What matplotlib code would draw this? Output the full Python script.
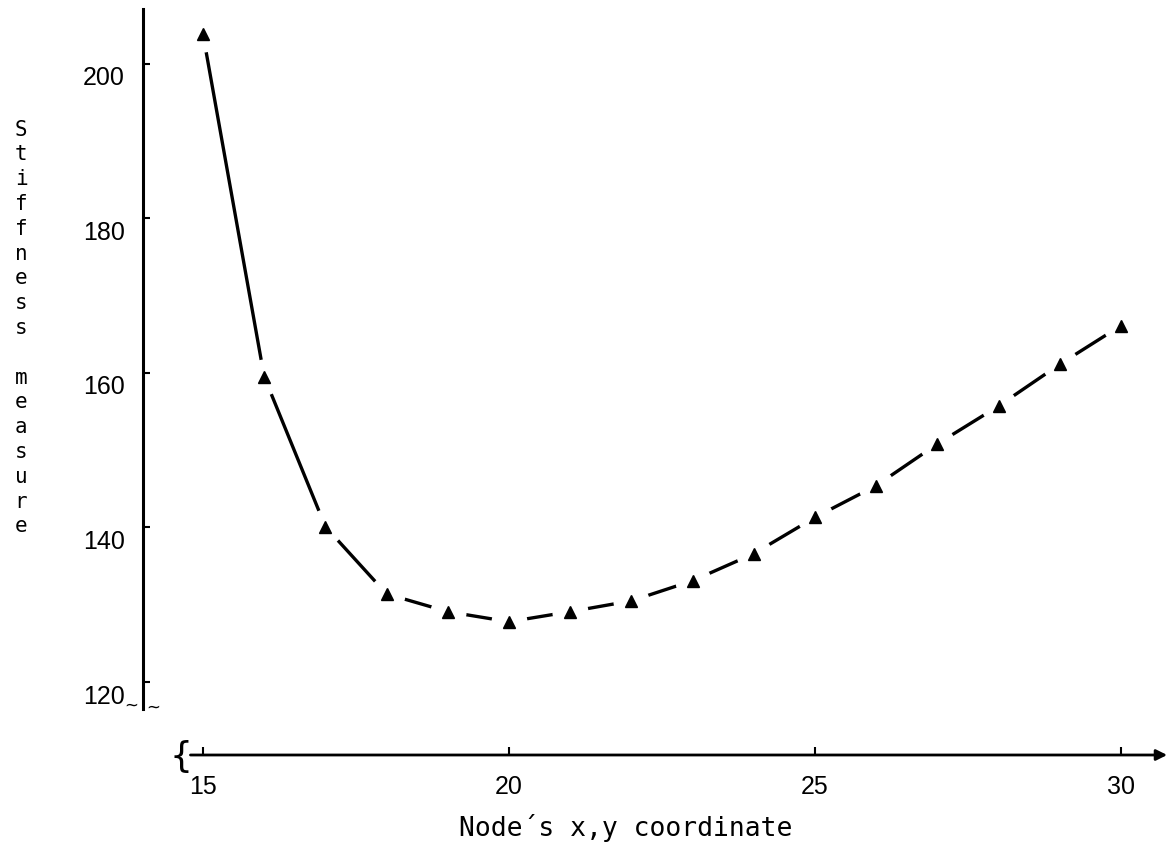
import matplotlib
matplotlib.use("Agg")
import matplotlib.pyplot as plt
from matplotlib.transforms import ScaledTranslation

# values
coord = [15, 16, 17, 18, 19, 20, 21, 22, 23, 24, 25, 26, 27, 28, 29, 30]
stiffness = [203.8, 159.5, 140.1, 131.4, 129.1, 127.8, 129.1, 130.5,
             133.1, 136.6, 141.3, 145.4, 150.8, 155.7, 161.1, 166.1]
y_ticks = [120, 140, 160, 180, 200]
y_tick_labels = ["120", "140", "160", "180", "200"]
x_ticks = [15, 20, 25, 30]
x_tick_labels = ["15", "20", "25", "30"]
x_title = "Node´s x,y coordinate"
y_title = "Stiffness measure"

W, H = 1172, 845
fig = plt.figure(figsize=(W / 100, H / 100), dpi=100)
fig.patch.set_facecolor("white")

# axes box in pixels: x 143..1165, y 10..756
ax = fig.add_axes([143 / W, (H - 756) / H, (1165 - 143) / W, (756 - 10) / H])
ax.set_xlim(14.02, 30.72)
ax.set_ylim(110.56, 207.06)
ax.patch.set_alpha(0)

# curve: solid line with gaps around each marker
ax.plot(coord, stiffness, color="black", lw=2.4, zorder=2)
ax.plot(coord, stiffness, ls="none", marker="o", ms=26, mfc="white",
        mec="none", zorder=3)
ax.plot(coord, stiffness, ls="none", marker="^", ms=9, mfc="black",
        mec="black", zorder=4)

# axes look
for s in ["top", "right", "bottom"]:
    ax.spines[s].set_visible(False)
ax.spines["left"].set_linewidth(2.2)
ax.spines["left"].set_bounds(116.5, 207.06)

ax.annotate("", xy=(30.8, 110.56), xytext=(14.75, 110.56),
            arrowprops=dict(arrowstyle="-|>", lw=2, color="black",
                            mutation_scale=16),
            annotation_clip=False)

ax.set_yticks(y_ticks)
ax.set_yticklabels(y_tick_labels, fontsize=18, family="Liberation Sans")
ax.set_xticks(x_ticks)
ax.set_xticklabels(x_tick_labels, fontsize=18, family="Liberation Sans")
ax.tick_params(axis="y", direction="in", length=5, width=1.5, pad=13)
ax.tick_params(axis="x", direction="in", length=6, width=1.5, pad=14)

shift = ScaledTranslation(0, -0.11, fig.dpi_scale_trans)
for lab in ax.get_yticklabels():
    lab.set_transform(lab.get_transform() + shift)

# axis break marks
fig.text(131 / W, 1 - 706 / H, "~", fontsize=12, ha="center", va="center")
fig.text(153 / W, 1 - 708 / H, "~", fontsize=12, ha="center", va="center")
fig.text(181 / W, 1 - 757 / H, "{", fontsize=26, ha="center", va="center",
         family="DejaVu Sans")

# titles in typewriter style
fig.text(626 / W, 1 - 828 / H, x_title, fontsize=19, ha="center",
         va="center", family="DejaVu Sans Mono")
fig.text(21 / W, 1 - 328 / H, "\n".join(y_title), fontsize=15,
         ha="center", va="center", family="DejaVu Sans Mono",
         linespacing=1.3)

fig.savefig("out.png", dpi=100)
